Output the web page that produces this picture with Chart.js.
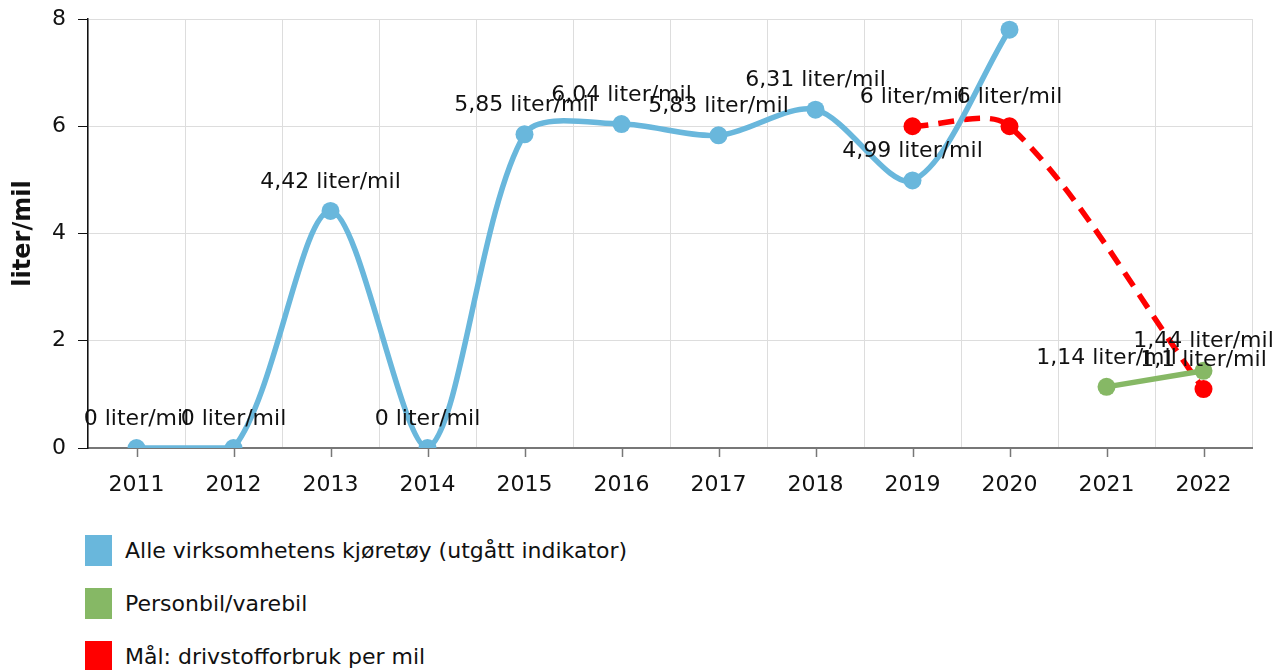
<!DOCTYPE html>
<html>
<head>
<meta charset="utf-8">
<script src="https://cdn.jsdelivr.net/npm/chart.js@4.4.1/dist/chart.umd.min.js"></script>
<style>
  html, body { margin: 0; padding: 0; background: #fff; }
  #wrap { position: relative; width: 1288px; height: 520px; }
  #legend { margin: 0; padding: 0; font-family: "DejaVu Sans", Verdana, sans-serif; font-size: 22px; color: #111; }
  .item { position: absolute; left: 85px; height: 31px; display: flex; align-items: center; }
  .box { width: 27px; height: 31px; margin-right: 13px; }
</style>
</head>
<body>
<div id="wrap"><canvas id="myChart"></canvas></div>
<div id="legend"></div>
<script>
  // data
  const years = ['2011', '2012', '2013', '2014', '2015', '2016', '2017', '2018', '2019', '2020', '2021', '2022'];
  const alleKjoretoy = [0, 0, 4.42, 0, 5.85, 6.04, 5.83, 6.31, 4.99, 7.8, null, null];
  const personbil = [null, null, null, null, null, null, null, null, null, null, 1.14, 1.44];
  const maal = [null, null, null, null, null, null, null, null, 6, 6, null, 1.1];
  const yTicks = [0, 2, 4, 6, 8];
  const seriesNames = ['Alle virksomhetens kjøretøy (utgått indikator)', 'Personbil/varebil', 'Mål: drivstofforbruk per mil'];
  const seriesColors = ['#69b7dc', '#86b865', '#ff0000'];

  const FONT = '"DejaVu Sans", Verdana, sans-serif';

  const fmt = v => String(v).replace('.', ',') + ' liter/mil';

  // labels over each point
  const pointLabels = {
    id: 'pointLabels',
    afterDatasetsDraw(chart) {
      const ctx = chart.ctx;
      ctx.save();
      ctx.font = '22px ' + FONT;
      ctx.fillStyle = '#111';
      ctx.textAlign = 'center';
      ctx.textBaseline = 'middle';
      chart.data.datasets.forEach((ds, i) => {
        const meta = chart.getDatasetMeta(i);
        meta.data.forEach((pt, j) => {
          const v = ds.data[j];
          if (v === null || v === undefined) return;
          const y = pt.y - 29;
          if (y - 11 < 0) return;
          ctx.fillText(fmt(v), pt.x, y);
        });
      });
      ctx.restore();
    }
  };

  // small tick marks under x axis at category centres
  const centerTicks = {
    id: 'centerTicks',
    afterDraw(chart) {
      const xs = chart.scales.x;
      const ctx = chart.ctx;
      ctx.save();
      ctx.strokeStyle = '#777';
      ctx.lineWidth = 1.5;
      years.forEach((y, i) => {
        const x = Math.round(xs.getPixelForValue(i)) + 0.5;
        ctx.beginPath();
        ctx.moveTo(x, xs.top);
        ctx.lineTo(x, xs.top + 9);
        ctx.stroke();
      });
      ctx.restore();
    }
  };

  const dataSets = [alleKjoretoy, personbil, maal];

  const ctx = document.getElementById('myChart');
  new Chart(ctx, {
    type: 'line',
    data: {
      labels: years,
      datasets: dataSets.map((d, i) => ({
        label: seriesNames[i],
        data: d,
        borderColor: seriesColors[i],
        backgroundColor: seriesColors[i],
        pointBackgroundColor: seriesColors[i],
        pointBorderWidth: 0,
        pointRadius: 9,
        pointHoverRadius: 9,
        borderWidth: 5.5,
        tension: i === 1 ? 0 : 0.3,
        spanGaps: i === 2,
        borderDash: i === 2 ? [16, 10] : [],
        fill: false
      }))
    },
    options: {
      responsive: true,
      maintainAspectRatio: false,
      animation: false,
      layout: { padding: { top: 19, right: 36, left: 0, bottom: 0 } },
      plugins: {
        legend: { display: false },
        tooltip: { enabled: false }
      },
      scales: {
        x: {
          offset: true,
          z: 1,
          grid: { color: '#dddddd', lineWidth: 1, drawTicks: false, offset: true },
          border: { color: '#777', width: 2 },
          ticks: { font: { family: FONT, size: 22 }, color: '#111', padding: 24, maxRotation: 0 },
          afterFit: s => { s.height = 72; }
        },
        y: {
          min: 0,
          max: 8,
          grid: { color: '#dddddd', lineWidth: 1, tickLength: 10, tickColor: '#111' },
          border: { color: '#111', width: 1.5 },
          afterBuildTicks: s => { s.ticks = yTicks.map(v => ({ value: v })); },
          ticks: { font: { family: FONT, size: 22 }, color: '#111', padding: 12 },
          title: {
            display: true,
            text: 'liter/mil',
            font: { family: FONT, size: 24, weight: 'bold' },
            color: '#111',
            padding: { top: 9, bottom: 0 }
          },
          afterFit: s => { s.width = 88; s.paddingTop = 0; s.paddingBottom = 0; }
        }
      }
    },
    plugins: [pointLabels, centerTicks]
  });

  // legend below the chart
  const legend = document.getElementById('legend');
  seriesNames.forEach((n, i) => {
    const row = document.createElement('div');
    row.className = 'item';
    row.style.top = (535 + i * 53) + 'px';
    const b = document.createElement('span');
    b.className = 'box';
    b.style.background = seriesColors[i];
    const t = document.createElement('span');
    t.textContent = n;
    row.appendChild(b);
    row.appendChild(t);
    legend.appendChild(row);
  });
</script>
</body>
</html>
